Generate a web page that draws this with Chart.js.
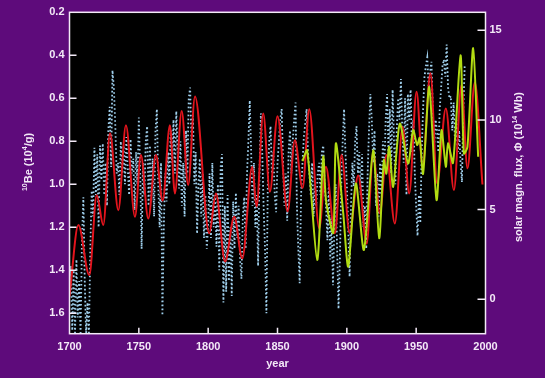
<!DOCTYPE html>
<html>
<head>
<meta charset="utf-8">
<script src="https://cdn.jsdelivr.net/npm/chart.js@4.4.1/dist/chart.umd.min.js"></script>
<style>
  html, body { margin: 0; padding: 0; background: #5e0b7b; }
  canvas { display: block; }
</style>
</head>
<body>
<canvas id="chart" width="545" height="378"></canvas>
<script>
// tick labels
const yearTicks = [1700, 1750, 1800, 1850, 1900, 1950, 2000];
const beTicks = [0.2, 0.4, 0.6, 0.8, 1.0, 1.2, 1.4, 1.6];
const fluxTicks = [0, 5, 10, 15];

// 10Be concentration, one value per year starting 1700 (blue dotted)
const beStart = 1700;
const beValues = [
  1.50, 1.38, 1.68, 1.40, 1.70, 1.35, 1.62, 1.45, 1.70, 1.25,
  1.06, 1.45, 1.70, 1.55, 1.70, 1.30, 1.03, 1.15, 0.83, 1.05,
  0.86, 1.20, 0.82, 0.98, 0.81, 1.05, 0.90, 1.10, 0.75, 0.64,
  0.92, 0.47, 0.55, 0.72, 0.95, 0.90, 1.05, 0.80, 0.95, 0.82,
  1.00, 0.78, 0.93, 1.05, 0.79, 0.95, 0.88, 1.12, 0.85, 1.00,
  0.69, 0.95, 1.30, 0.90, 1.05, 0.80, 0.73, 1.10, 0.82, 1.08,
  0.88, 1.15, 0.75, 0.65, 1.00, 1.20, 0.90, 1.61, 1.20, 0.95,
  1.08, 0.85, 1.00, 0.75, 0.90, 0.70, 0.95, 0.66, 0.85, 1.02,
  0.80, 1.10, 0.90, 1.15, 0.75, 0.95, 0.60, 0.55, 0.80, 0.68,
  1.00, 0.85, 1.23, 1.00, 0.88, 1.15, 0.95, 1.25, 1.05, 1.30,
  1.18, 0.95, 1.25, 0.90, 1.20, 1.05, 1.29, 1.00, 1.40, 0.92,
  0.86, 1.55, 1.10, 1.50, 1.05, 1.45, 1.20, 1.52, 1.08, 1.30,
  1.04, 1.25, 1.10, 1.35, 1.44, 1.15, 1.06, 1.30, 0.95, 0.80,
  0.61, 0.85, 1.10, 0.90, 1.20, 1.05, 1.38, 0.95, 0.67, 0.85,
  1.10, 1.30, 1.60, 1.00, 0.80, 0.73, 0.95, 0.85, 1.05, 1.13,
  0.90, 0.80, 0.70, 0.65, 0.90, 1.10, 0.95, 1.17, 0.85, 0.75,
  0.95, 0.80, 0.70, 0.62, 1.10, 1.30, 1.46, 1.05, 0.90, 0.78,
  0.72, 0.65, 0.85, 0.95, 1.05, 0.90, 1.15, 1.00, 1.10, 0.95,
  0.90, 1.05, 0.85, 0.82, 1.00, 1.10, 1.26, 1.00, 1.35, 1.15,
  1.47, 1.20, 1.00, 1.30, 1.58, 1.35, 1.00, 0.80, 0.65, 0.85,
  1.00, 1.20, 1.43, 1.10, 0.90, 1.01, 0.80, 0.73, 0.95, 0.85,
  1.05, 0.86, 1.20, 1.10, 1.30, 0.95, 0.75, 0.58, 0.70, 0.90,
  0.75, 1.10, 0.95, 1.15, 0.90, 1.05, 0.80, 0.95, 0.70, 0.58,
  0.85, 0.65, 0.95, 0.56, 0.80, 1.00, 0.75, 0.60, 0.70, 0.51,
  0.75, 0.90, 0.60, 1.05, 0.58, 0.70, 0.56, 0.85, 0.70, 0.95,
  1.10, 1.24, 1.05, 1.18, 0.85, 0.65, 0.50, 0.45, 0.41, 0.55,
  0.48, 0.43, 0.65, 0.82, 0.70, 0.75, 0.85, 0.65, 0.55, 0.45,
  0.42, 0.50, 0.35, 0.55, 0.60, 0.59, 0.75, 0.62, 0.80, 0.70,
  0.85, 0.75, 0.90, 0.99, 0.65, 0.45
];

// reconstructed open solar flux (red), read at its turning points
const modelYears = [
  1700, 1706.4, 1714.3, 1719.6, 1724.4, 1729.2, 1735.2, 1740.7, 1747.2, 1751.5,
  1756.8, 1762.3, 1767.2, 1772.4, 1776, 1780.9, 1785.6, 1790.5, 1800.8, 1805.6,
  1812.2, 1818.8, 1824.6, 1831.8, 1834.9, 1839.7, 1844.5, 1850, 1857.3, 1862.5,
  1868.1, 1872.9, 1880.1, 1884.9, 1891.4, 1896.2, 1902, 1908.2, 1914.3, 1919,
  1923.8, 1928.6, 1934.6, 1940.2, 1945, 1950.3, 1954.6, 1960.3, 1965.1, 1971.4,
  1977.2, 1982.7, 1987, 1992.3, 1997.8
];
const modelFlux = [
  0.15, 4.14, 1.35, 5.8, 4.14, 9.25, 4.97, 9.7, 4.6, 8.04,
  4.5, 8.04, 5.5, 9.7, 5.9, 10.5, 6.37, 11.3, 3.68, 5.9,
  2.1, 4.6, 2.28, 7.39, 5.16, 10.36, 6.0, 10.2, 4.9, 8.87,
  6.2, 10.6, 3.96, 7.39, 3.68, 8.04, 3.7, 6.9, 3.1, 8.2,
  4.8, 8.04, 4.23, 9.6, 5.9, 11.57, 7.39, 12.6, 6.46, 10.64,
  6.09, 11.94, 7.3, 12.1, 6.4
];

// open flux from the aa index (green)
const aaYears = [
  1868, 1871.4, 1878.6, 1883, 1885, 1890.2, 1892.1, 1897.4, 1901, 1906.5,
  1912.3, 1919, 1923.3, 1926.7, 1928.5, 1930.5, 1933.4, 1938.2, 1944.2, 1947.8,
  1950.7, 1952.5, 1955, 1959.4, 1964.7, 1968.3, 1971.4, 1973, 1976.6, 1982,
  1984.4, 1987, 1991.1, 1994.7
];
const aaFlux = [
  7.7, 8.3, 2.19, 7.95, 5.5, 3.7, 8.7, 4.8, 1.82, 6.46,
  2.75, 8.3, 3.4, 7.76, 7.0, 8.5, 6.27, 9.8, 7.57, 9.43,
  8.6, 9.0, 7.0, 11.84, 5.53, 9.43, 7.39, 8.7, 7.6, 13.6,
  8.13, 8.5, 14.0, 7.95
];

const ink = '#f3e9f7';
const font = 'Liberation Sans, Arial, sans-serif';

function drawRich(ctx, parts, cx, cy) {
  ctx.save();
  ctx.translate(cx, cy);
  ctx.rotate(-Math.PI / 2);
  ctx.fillStyle = ink;
  ctx.textBaseline = 'middle';
  let w = 0;
  parts.forEach(p => {
    ctx.font = p[1] ? 'bold 7px ' + font : 'bold 11px ' + font;
    p.w = ctx.measureText(p[0]).width;
    w += p.w;
  });
  let x = -w / 2;
  parts.forEach(p => {
    ctx.font = p[1] ? 'bold 7px ' + font : 'bold 11px ' + font;
    ctx.fillText(p[0], x, p[1] ? -4 : 0);
    x += p.w;
  });
  ctx.restore();
}

const frame = {
  id: 'frame',
  beforeDraw(chart) {
    const { ctx, chartArea: a } = chart;
    ctx.save();
    ctx.fillStyle = '#000';
    ctx.fillRect(a.left, a.top, a.right - a.left, a.bottom - a.top);
    ctx.restore();
  },
  afterDatasetsDraw(chart) {
    const { ctx, chartArea: a, scales } = chart;
    ctx.save();
    ctx.strokeStyle = ink;
    ctx.lineWidth = 1.5;
    ctx.strokeRect(a.left, a.top, a.right - a.left, a.bottom - a.top);
    ctx.beginPath();
    yearTicks.slice(1, -1).forEach(v => {
      const x = scales.x.getPixelForValue(v);
      ctx.moveTo(x, a.bottom);
      ctx.lineTo(x, a.bottom - 6);
    });
    beTicks.slice(1).forEach(v => {
      const y = scales.be.getPixelForValue(v);
      ctx.moveTo(a.left, y);
      ctx.lineTo(a.left + 7, y);
    });
    fluxTicks.forEach(v => {
      const y = scales.flux.getPixelForValue(v);
      ctx.moveTo(a.right, y);
      ctx.lineTo(a.right - 8, y);
    });
    ctx.stroke();
    ctx.restore();
  },
  afterDraw(chart) {
    const { ctx, chartArea: a } = chart;
    ctx.save();
    ctx.fillStyle = ink;
    ctx.font = 'bold 11px ' + font;
    ctx.textAlign = 'center';
    ctx.textBaseline = 'middle';
    ctx.fillText('year', (a.left + a.right) / 2, 364);
    ctx.restore();
    drawRich(ctx, [['10', 1], ['Be (10', 0], ['4', 1], ['/g)', 0]], 29, 162);
    drawRich(ctx, [['solar magn. flux, \u03A6 (10', 0], ['14', 1], [' Wb)', 0]], 519, 167);
  }
};

const tickFont = { family: font, weight: 'bold', size: 11 };

new Chart(document.getElementById('chart'), {
  type: 'line',
  data: {
    datasets: [
      {
        label: '10Be',
        data: beValues.map((v, i) => ({ x: beStart + i, y: v })),
        yAxisID: 'be',
        borderColor: '#9fcfec',
        borderWidth: 1.8,
        borderDash: [1.6, 2.4],
        pointRadius: 0,
        tension: 0,
        order: 3
      },
      {
        label: 'model',
        data: modelYears.map((t, i) => ({ x: t, y: modelFlux[i] })),
        yAxisID: 'flux',
        borderColor: '#e3141d',
        borderWidth: 2,
        pointRadius: 0,
        cubicInterpolationMode: 'monotone',
        order: 2
      },
      {
        label: 'aa',
        data: aaYears.map((t, i) => ({ x: t, y: aaFlux[i] })),
        yAxisID: 'flux',
        borderColor: '#b2dc12',
        borderWidth: 2,
        pointRadius: 0,
        tension: 0.25,
        order: 1
      }
    ]
  },
  options: {
    responsive: false,
    animation: false,
    devicePixelRatio: 1,
    layout: { padding: { top: 12.3, left: 0, right: 0, bottom: 0 } },
    plugins: { legend: { display: false }, tooltip: { enabled: false } },
    scales: {
      x: {
        type: 'linear',
        min: 1700,
        max: 2000,
        grid: { display: false, drawTicks: false },
        border: { display: false },
        afterBuildTicks: s => { s.ticks = yearTicks.map(v => ({ value: v })); },
        afterFit: s => { s.height = 378 - 333.7; },
        ticks: { color: ink, font: tickFont, padding: 7, autoSkip: false, maxRotation: 0, callback: v => String(v) }
      },
      be: {
        type: 'linear',
        position: 'left',
        reverse: true,
        min: 0.2,
        max: 1.695,
        grid: { display: false, drawTicks: false },
        border: { display: false },
        afterBuildTicks: s => { s.ticks = beTicks.map(v => ({ value: v })); },
        afterFit: s => { s.width = 69.5; },
        ticks: { color: ink, font: tickFont, padding: 5, callback: v => v.toFixed(1) }
      },
      flux: {
        type: 'linear',
        position: 'right',
        min: -1.92,
        max: 16,
        grid: { display: false, drawTicks: false },
        border: { display: false },
        afterBuildTicks: s => { s.ticks = fluxTicks.map(v => ({ value: v })); },
        afterFit: s => { s.width = 545 - 485.5; },
        ticks: { color: ink, font: tickFont, padding: 4 }
      }
    }
  },
  plugins: [frame]
});
</script>
</body>
</html>
